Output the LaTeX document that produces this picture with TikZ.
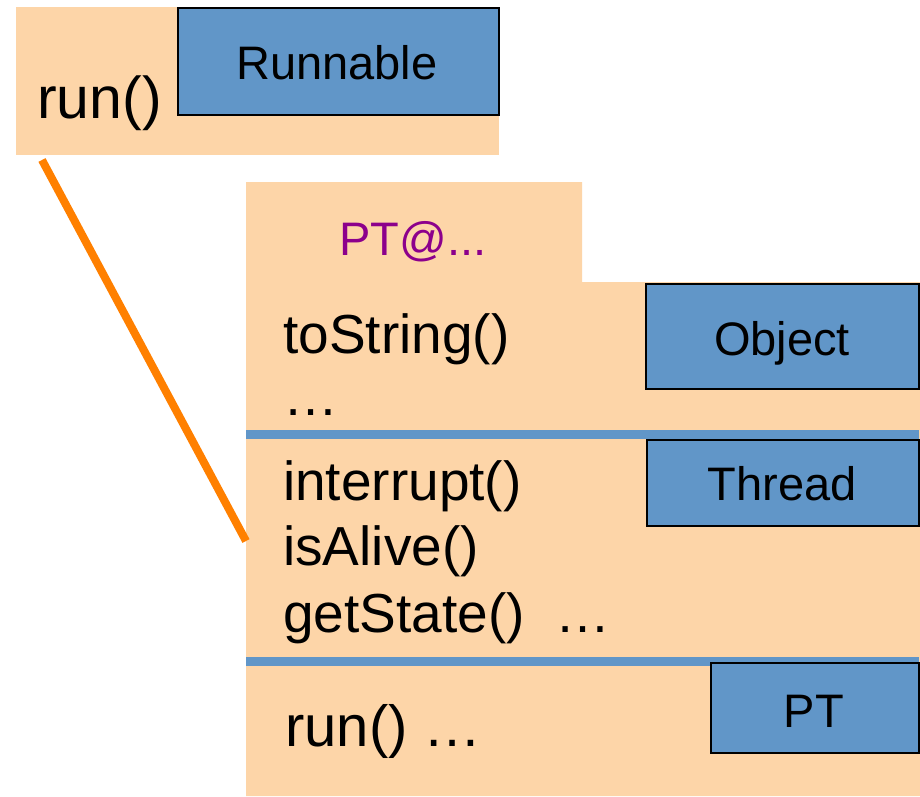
\documentclass[tikz,border=0pt]{standalone}
\usepackage{fontspec}
\setmainfont{Liberation Sans}
\definecolor{peach}{RGB}{253,213,168}
\definecolor{boxblue}{RGB}{97,150,200}
\definecolor{ptpurple}{RGB}{140,0,140}
\definecolor{linkorange}{RGB}{255,128,0}
\begin{document}
\begin{tikzpicture}[x=1pt,y=-1pt,
  peachfill/.style={fill=peach, draw=none},
  bar/.style={fill=boxblue, draw=none},
  classbox/.style={draw=black, line width=2pt, fill=boxblue, inner sep=0pt, anchor=north west},
  classtext/.style={inner sep=0pt, anchor=base, font=\fontsize{47}{52}\selectfont},
  methodtext/.style={inner sep=0pt, anchor=base west, font=\fontsize{55}{60}\selectfont},
  link/.style={draw=linkorange, line width=8pt}]
\useasboundingbox (0,0) rectangle (920,796);
\fill[white] (0,0) rectangle (920,796);

% top-left interface box
\path[peachfill] (16,7) rectangle (499,155);
\node[classbox, minimum width=321pt, minimum height=107pt] (runnablebox) at (177,7) {};
\node[classtext] (runnable) at (337,79) {Runnable};
\node[methodtext, font=\fontsize{59}{64}\selectfont] (runtop) at (37,118) {run()};

% object structure
\path[peachfill] (246,182) -- (582,182) -- (582,282) -- (920,282) -- (920,796) -- (246,796) -- cycle;
\node[classtext, text=ptpurple] (ptat) at (413,255) {PT@...};

\node[classbox, minimum width=273pt, minimum height=105pt] (objectbox) at (645,283) {};
\node[classtext] (object) at (782,355) {Object};
\node[methodtext] (tostring) at (283,353) {toString()};
\node[methodtext] (dots1) at (283,415) {…};

\path[bar] (246,430) rectangle (919,439);
\node[classbox, minimum width=272pt, minimum height=86pt] (threadbox) at (646,439) {};
\node[classtext] (thread) at (782,500) {Thread};
\node[methodtext] (interrupt) at (283,500) {interrupt()};
\node[methodtext] (isalive) at (283,565) {isAlive()};
\node[methodtext] (getstate) at (283,632) {getState()\ \ …};

\path[bar] (246,657) rectangle (919,666);
\node[classbox, minimum width=208pt, minimum height=90pt] (ptbox) at (710,662) {};
\node[classtext] (pt) at (814,727) {PT};
\node[methodtext, font=\fontsize{58}{63}\selectfont] (runpt) at (285,746) {run() …};

% connector
\coordinate (linkstart) at (42,160);
\coordinate (linkend) at (246,541);
\draw[link] (linkstart) -- (linkend);
\end{tikzpicture}
\end{document}
